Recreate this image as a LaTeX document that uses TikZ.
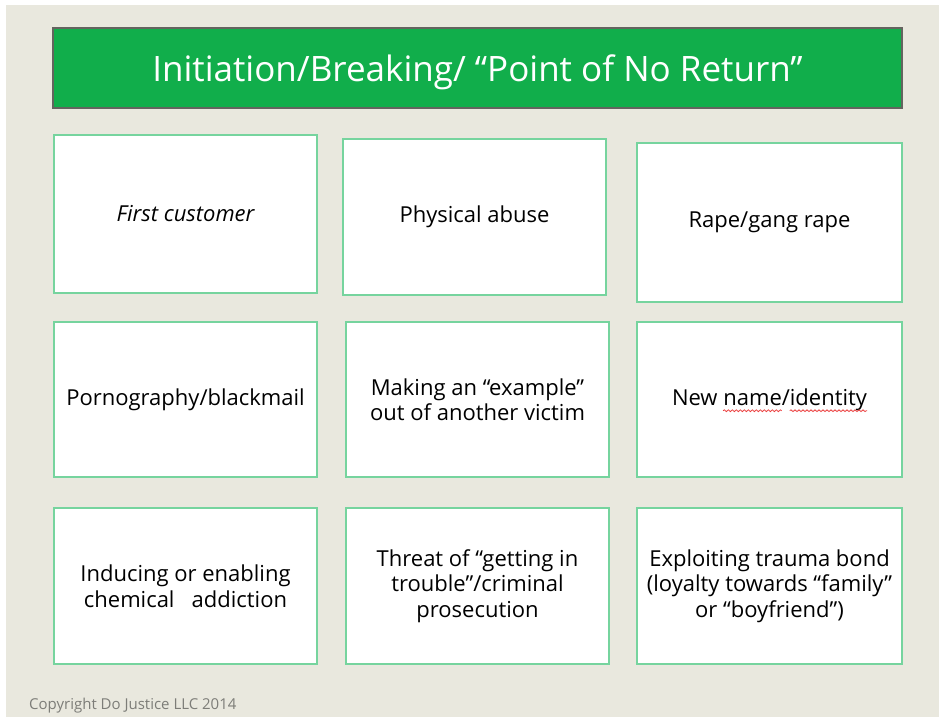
\documentclass[tikz,border=0pt]{standalone}
\usepackage{fontspec}
\setmainfont{Open Sans}
\usetikzlibrary{decorations.pathmorphing}

\definecolor{pagebg}{RGB}{233,232,222}
\definecolor{bannerfill}{RGB}{17,174,75}
\definecolor{bannerline}{RGB}{100,100,95}
\definecolor{cardline}{RGB}{118,212,158}
\definecolor{notegray}{RGB}{125,125,120}
\definecolor{spellred}{RGB}{235,60,60}

\newcommand\cardfont{\fontsize{22}{25.5}\selectfont}
\newcommand\bannerfont{\fontsize{35}{40}\selectfont}
\newcommand\notefont{\fontsize{15}{18}\selectfont}
\newlength\wNew
\newlength\wName
\newlength\wSlash

\begin{document}
% word offsets for the spell-check underlines
\settowidth{\wNew}{\cardfont New\ }%
\settowidth{\wName}{\cardfont New name}%
\settowidth{\wSlash}{\cardfont New name/}%
\begin{tikzpicture}[x=1pt,y=-1pt,
  card/.style={draw=cardline, line width=2.4pt, fill=white, align=center,
    font=\cardfont, text=black, inner sep=0pt},
  wide/.style={minimum width=263pt},
  wider/.style={minimum width=265pt},
  wavy/.style={draw=spellred, line width=0.8pt,
    decorate, decoration={snake, segment length=4pt, amplitude=0.9pt}}]

% page
\useasboundingbox (0,0) rectangle (939,717);
\fill[white] (0,0) rectangle (939,717);
\fill[pagebg] (6,5) rectangle (939,717);

% banner
\node[draw=bannerline, line width=2.6pt, fill=bannerfill,
  minimum width=849pt, minimum height=80pt, inner sep=0pt]
  (banner) at (477.5,68) {};
\node[text=white, font=\bannerfont, inner sep=0pt] (title) at (477.5,72)
  {Initiation/Breaking/ “Point of No Return”};

% row 1
\node[card, wide, minimum height=158pt] (c1) at (185.5,214)
  {\itshape First customer};
\node[card, wide, minimum height=156pt] (c2) at (474.5,217)
  {Physical abuse};
\node[card, wider, minimum height=159pt] (c3) at (769.5,222.5)
  {Rape/gang rape};

% row 2
\node[card, wide, minimum height=155pt] (c4) at (185.5,399.5)
  {Pornography/blackmail};
\node[card, wide, minimum height=155pt] (c5) at (477.5,399.5)
  {Making an “example”\\out of another victim};
\node[card, wider, minimum height=155pt] (c6) at (769.5,399.5) {};
\node[font=\cardfont, inner sep=0pt] (t6) at (c6.center) {New name/identity};

% row 3
\node[card, wide, minimum height=156pt] (c7) at (185.5,586)
  {Inducing or enabling\\chemical\ \ \ addiction};
\node[card, wide, minimum height=156pt] (c8) at (477.5,586)
  {Threat of “getting in\\trouble”/criminal\\prosecution};
\node[card, wider, minimum height=156pt] (c9) at (769.5,586)
  {Exploiting trauma bond\\(loyalty towards “family”\\or “boyfriend”)};

% spell-check underlines under "name" and "identity"
\coordinate (u1) at ([xshift=\wNew, yshift=-5.5pt]t6.base west);
\coordinate (u2) at ([xshift=\wName, yshift=-5.5pt]t6.base west);
\coordinate (u3) at ([xshift=\wSlash, yshift=-5.5pt]t6.base west);
\coordinate (u4) at ([yshift=-5.5pt]t6.base east);
\path[wavy] (u1) -- (u2);
\path[wavy] (u3) -- (u4);

% footer
\node[font=\notefont, text=notegray, anchor=west, inner sep=0pt] (note)
  at (29,706) {Copyright Do Justice LLC 2014};
\end{tikzpicture}
\end{document}
